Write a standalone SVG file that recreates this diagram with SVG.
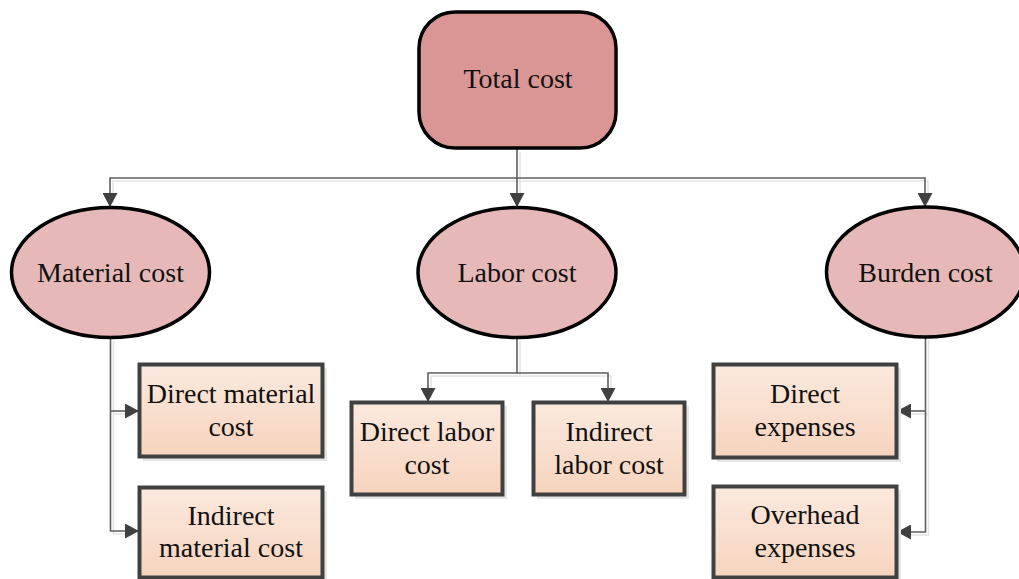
<svg xmlns="http://www.w3.org/2000/svg" width="1019" height="579" viewBox="0 0 1019 579">
  <defs>
    <linearGradient id="boxFill" x1="0" y1="0" x2="0" y2="1">
      <stop offset="0" stop-color="#FBE9DE"/>
      <stop offset="1" stop-color="#F6D4BE"/>
    </linearGradient>
    <marker id="arrow" markerUnits="userSpaceOnUse" markerWidth="15" markerHeight="15" refX="14" refY="7.5" orient="auto">
      <path d="M0,0 L14,7.5 L0,15 z" fill="#404040"/>
    </marker>
  </defs>
  <style>
    .label { font-family: "Liberation Serif", "Times New Roman", serif; font-size: 28px; fill: #111; text-anchor: middle; }
    .wire { fill: none; stroke: #5f5f5f; stroke-width: 1.6; }
    .wire-shadow { fill: none; stroke: #e4e4e4; stroke-width: 1.6; }
    .ellipse { fill: #E6B9B8; stroke: #000; stroke-width: 3.5; }
    .box { fill: url(#boxFill); stroke: #404040; stroke-width: 4; }
    .box-shadow { fill: #e6e6e6; }
  </style>
  <rect width="1019" height="579" fill="#fff"/>

  <!-- connector shadows -->
  <g id="connector-shadows" class="wire-shadow" transform="translate(3,3)">
    <path d="M517,149 V200"/>
    <path d="M517,178 H110 V200"/>
    <path d="M517,178 H925 V200"/>
    <path d="M110.5,338 V531 H130"/>
    <path d="M110.5,411 H130"/>
    <path d="M517,338 V373 H428 V395"/>
    <path d="M517,373 H608 V395"/>
    <path d="M925.5,337 V532 H905"/>
    <path d="M925.5,411 H905"/>
  </g>

  <!-- connectors -->
  <g id="connectors" class="wire">
    <path d="M517,149 V207" marker-end="url(#arrow)"/>
    <path d="M517,178 H110 V207" marker-end="url(#arrow)"/>
    <path d="M517,178 H925 V207" marker-end="url(#arrow)"/>
    <path d="M110.5,338 V531 H139" marker-end="url(#arrow)"/>
    <path d="M110.5,411 H139" marker-end="url(#arrow)"/>
    <path d="M517,338 V373 H428 V402" marker-end="url(#arrow)"/>
    <path d="M517,373 H608 V402" marker-end="url(#arrow)"/>
    <path d="M925.5,337 V532 H897" marker-end="url(#arrow)"/>
    <path d="M925.5,411 H897" marker-end="url(#arrow)"/>
  </g>

  <g id="total-cost">
    <rect x="419" y="12" width="197" height="136" rx="36" ry="36" fill="#D99694" stroke="#000" stroke-width="3.5"/>
    <text class="label" x="518" y="88">Total cost</text>
  </g>

  <g id="material-cost">
    <ellipse class="ellipse" cx="110.5" cy="272.5" rx="99" ry="65"/>
    <text class="label" x="110.5" y="282">Material cost</text>
  </g>

  <g id="labor-cost">
    <ellipse class="ellipse" cx="517" cy="272.5" rx="99" ry="65"/>
    <text class="label" x="517" y="282">Labor cost</text>
  </g>

  <g id="burden-cost">
    <ellipse class="ellipse" cx="925.5" cy="272" rx="99" ry="65"/>
    <text class="label" x="925.5" y="282">Burden cost</text>
  </g>

  <g id="direct-material-cost">
    <rect class="box-shadow" x="143" y="368" width="184" height="93"/>
    <rect class="box" x="139.5" y="364.5" width="183" height="92"/>
    <text class="label" x="231" y="403">Direct material</text>
    <text class="label" x="231" y="436">cost</text>
  </g>

  <g id="indirect-material-cost">
    <rect class="box-shadow" x="143" y="491" width="184" height="91"/>
    <rect class="box" x="139.5" y="487.5" width="183" height="90"/>
    <text class="label" x="231" y="525">Indirect</text>
    <text class="label" x="231" y="557">material cost</text>
  </g>

  <g id="direct-labor-cost">
    <rect class="box-shadow" x="355" y="406" width="152" height="93"/>
    <rect class="box" x="351.5" y="402.5" width="151" height="92"/>
    <text class="label" x="427" y="441">Direct labor</text>
    <text class="label" x="427" y="474">cost</text>
  </g>

  <g id="indirect-labor-cost">
    <rect class="box-shadow" x="537" y="406" width="152" height="93"/>
    <rect class="box" x="533.5" y="402.5" width="151" height="92"/>
    <text class="label" x="609" y="441">Indirect</text>
    <text class="label" x="609" y="474">labor cost</text>
  </g>

  <g id="direct-expenses">
    <rect class="box-shadow" x="717" y="368" width="184" height="94"/>
    <rect class="box" x="713.5" y="364.5" width="183" height="93"/>
    <text class="label" x="805" y="403">Direct</text>
    <text class="label" x="805" y="436">expenses</text>
  </g>

  <g id="overhead-expenses">
    <rect class="box-shadow" x="717" y="490" width="184" height="92"/>
    <rect class="box" x="713.5" y="486.5" width="183" height="91"/>
    <text class="label" x="805" y="524">Overhead</text>
    <text class="label" x="805" y="557">expenses</text>
  </g>
</svg>
